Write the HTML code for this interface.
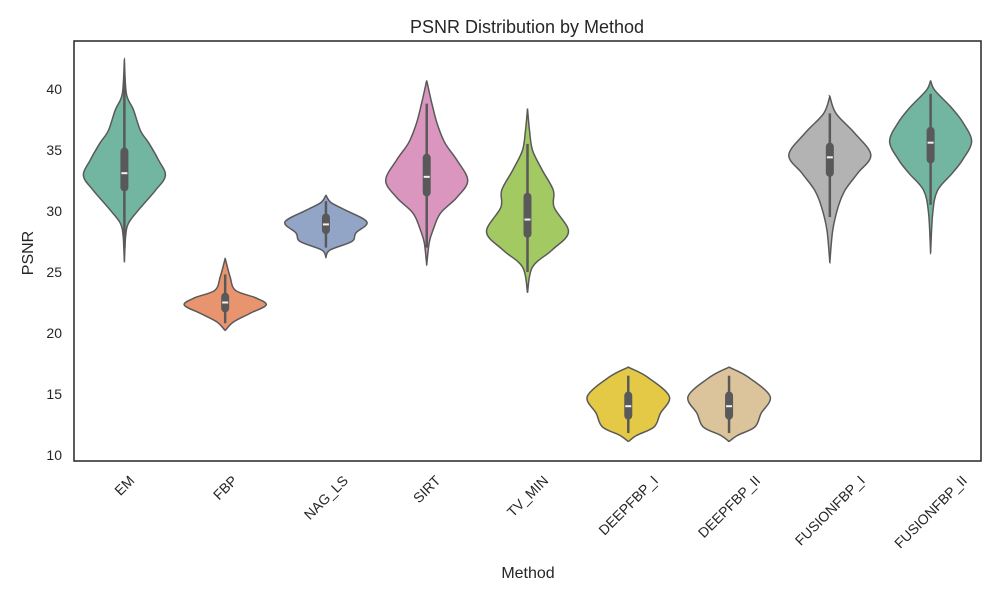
<!DOCTYPE html>
<html><head><meta charset="utf-8"><style>
body{margin:0;background:#fff;}
svg{font-family:"Liberation Sans","DejaVu Sans",sans-serif;}
</style></head><body>
<svg id="chart" width="1000" height="600">
<rect x="0" y="0" width="1000" height="600" fill="#fff"/>
<text x="527" y="33" text-anchor="middle" font-size="18" fill="#262626">PSNR Distribution by Method</text>
<g id="plot"></g>
<rect x="74" y="41" width="907" height="420" fill="none" stroke="#262626" stroke-width="1.5"/>
<text x="528" y="578" text-anchor="middle" font-size="16" fill="#262626">Method</text>
<text transform="translate(33,253) rotate(-90)" text-anchor="middle" font-size="16" fill="#262626">PSNR</text>
</svg>
<script>
const categories=["EM","FBP","NAG_LS","SIRT","TV_MIN","DEEPFBP_I","DEEPFBP_II","FUSIONFBP_I","FUSIONFBP_II"];
const colors=["#72b6a1","#e8956f","#93a5c6","#db96c0","#a3c963","#e4c947","#dbc49c","#b3b3b3","#72b6a1"];
const yTicks=[10,15,20,25,30,35,40];
// density profiles: PSNR levels (low->high) and relative density
const profLevels=[
[25.8,27.9,29.0,30.1,31.7,32.9,34.2,35.6,36.6,38.3,39.6,42.4],
[20.2,20.9,21.6,22.3,22.9,23.5,24.6,26.1],
[26.2,26.8,27.5,28.2,29.1,30.1,30.7,31.3],
[25.6,27.4,28.4,29.8,31.1,32.5,34.2,35.6,37.2,38.9,40.7],
[23.3,25.4,26.8,28.3,30.3,31.7,33.4,35.0,36.6,38.4],
[11.1,11.6,12.3,13.4,14.8,16.4,17.2],
[11.1,11.6,12.3,13.4,14.8,16.4,17.2],
[25.8,28.4,30.3,31.7,33.1,34.6,36.4,38.0,39.4],
[26.6,29.8,31.7,33.1,34.2,35.7,37.2,38.5,39.9,40.7]];
const profDensity=[
[0,0.03,0.1,0.35,0.76,1,0.83,0.59,0.39,0.22,0.05,0],
[0,0.2,0.6,1,0.73,0.25,0.12,0],
[0,0.1,0.63,0.73,1,0.46,0.12,0],
[0,0.06,0.15,0.33,0.73,1,0.73,0.44,0.25,0.12,0],
[0,0.12,0.6,1,0.65,0.63,0.35,0.12,0.05,0],
[0,0.2,0.63,0.78,1,0.46,0],
[0,0.2,0.63,0.78,1,0.46,0],
[0,0.07,0.2,0.37,0.68,1,0.6,0.15,0],
[0,0.05,0.17,0.53,0.78,1,0.8,0.5,0.1,0]];
const q1=[31.6,21.7,28.1,31.2,27.8,12.9,12.9,32.8,33.9];
const medians=[33.1,22.5,28.9,32.8,29.3,14.0,14.0,34.4,35.6];
const q3=[35.2,23.3,29.8,34.7,31.5,15.2,15.2,35.6,36.9];
const whiskLo=[27.0,20.8,27.0,27.0,25.0,11.8,11.8,29.5,30.5];
const whiskHi=[41.0,24.8,30.8,38.8,35.5,16.5,16.5,38.0,39.6];

const X0=74,X1=981,Y0=41,Y1=461;
const yScale=v=>455-(v-10)*12.2;
const band=(X1-X0)/categories.length;
const xScale=i=>X0+band*(i+0.5);
const HW=41;
const NS="http://www.w3.org/2000/svg";
const svg=document.getElementById('chart');
const plot=document.getElementById('plot');
function mk(t,a,p){const e=document.createElementNS(NS,t);for(const k in a)e.setAttribute(k,a[k]);(p||plot).appendChild(e);return e;}

yTicks.forEach(t=>{
  const el=mk('text',{x:62,y:yScale(t)+5,'text-anchor':'end','font-size':14,fill:'#262626'},svg);
  el.textContent=t;
  
  
});

function crPath(pts){
  let d='';
  for(let i=0;i<pts.length-1;i++){
    const p0=pts[Math.max(0,i-1)],p1=pts[i],p2=pts[i+1],p3=pts[Math.min(pts.length-1,i+2)];
    const c1=[p1[0]+(p2[0]-p0[0])/6,p1[1]+(p2[1]-p0[1])/6];
    const c2=[p2[0]-(p3[0]-p1[0])/6,p2[1]-(p3[1]-p1[1])/6];
    d+=` C${c1[0].toFixed(1)},${c1[1].toFixed(1)} ${c2[0].toFixed(1)},${c2[1].toFixed(1)} ${p2[0].toFixed(1)},${p2[1].toFixed(1)}`;
  }
  return d;
}

categories.forEach((c,i)=>{
  const cx=xScale(i);
  const L=profLevels[i],D=profDensity[i];
  const right=L.map((v,k)=>[cx+D[k]*HW,yScale(v)]);
  const left=L.map((v,k)=>[cx-D[k]*HW,yScale(v)]).reverse();
  let d=`M${right[0][0]},${right[0][1]}`+crPath(right)+` L${left[0][0]},${left[0][1]}`+crPath(left)+'Z';
  const v=mk('path',{d:d,fill:colors[i],stroke:'#595959','stroke-width':1.5});
  
  
  const w=mk('line',{x1:cx,x2:cx,y1:yScale(whiskLo[i]),y2:yScale(whiskHi[i]),stroke:'#595959','stroke-width':2.5});
  
  
  const b=mk('rect',{x:cx-4,y:yScale(q3[i]),width:8,height:yScale(q1[i])-yScale(q3[i]),rx:4,fill:'#595959'});
  
  
  const m=mk('line',{x1:cx-3,x2:cx+3,y1:yScale(medians[i]),y2:yScale(medians[i]),stroke:'#f2f2f2','stroke-width':2});
  
  
  const t=mk('text',{'text-anchor':'middle','font-size':14,fill:'#262626',dy:'0.35em'},svg);
  t.textContent=c;
  const len=t.getComputedTextLength();
  const cy=473+len/(2*Math.SQRT2)+5;
  t.setAttribute('transform',`translate(${cx},${cy}) rotate(-45)`);
  
  
});
</script>
</body></html>
